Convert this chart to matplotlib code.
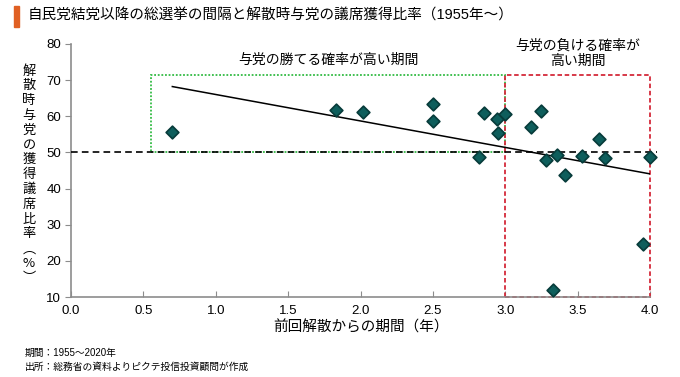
import matplotlib
matplotlib.use("Agg")
import matplotlib.pyplot as plt
import numpy as np
from matplotlib.patches import Rectangle

plt.rcParams["font.family"] = ["Liberation Sans", "Noto Sans CJK JP", "DejaVu Sans"]

# years since the previous dissolution / ruling party seat share (%)
interval_years = [0.70, 1.83, 2.02, 2.50, 2.50, 2.82, 2.85, 2.94, 2.95, 3.00,
                  3.18, 3.25, 3.28, 3.36, 3.41, 3.53, 3.65, 3.69, 4.00, 3.95, 3.33]
seat_share = [55.6, 61.6, 61.2, 63.4, 58.6, 48.6, 61.0, 59.3, 55.3, 60.6,
              57.0, 61.5, 47.9, 49.4, 43.7, 48.9, 53.7, 48.5, 48.6, 24.8, 11.8]

x_ticks = [0.0, 0.5, 1.0, 1.5, 2.0, 2.5, 3.0, 3.5, 4.0]
y_ticks = [10, 20, 30, 40, 50, 60, 70, 80]
majority_line = 50
win_period = (0.55, 3.0)
lose_period = (3.0, 4.0)
box_top = 71.5

fig = plt.figure(figsize=(6.8, 3.77), dpi=100)
ax = fig.add_axes([0.1044, 0.2122, 0.8515, 0.6711])

ax.set_xlim(0, 4)
ax.set_ylim(10, 80)
ax.set_xticks(x_ticks)
ax.set_xticklabels([f"{v:.1f}" for v in x_ticks])
ax.set_yticks(y_ticks)
for side in ("top", "right"):
    ax.spines[side].set_visible(False)
for side in ("left", "bottom"):
    ax.spines[side].set_color("#8c8c8c")
    ax.spines[side].set_linewidth(1.2)
ax.tick_params(axis="y", direction="out", length=4, color="#8c8c8c", labelsize=9.5, pad=3)
ax.tick_params(axis="x", direction="in", length=4, color="#8c8c8c", labelsize=9.5, pad=6)

# period boxes
ax.add_patch(Rectangle((win_period[0], majority_line), win_period[1] - win_period[0],
                       box_top - majority_line, fill=False, edgecolor="#33bb44",
                       linestyle=(0, (1, 1)), linewidth=1.3, zorder=2))
ax.add_patch(Rectangle((lose_period[0], 10), lose_period[1] - lose_period[0],
                       box_top - 10, fill=False, edgecolor="#d42a3a",
                       linestyle=(0, (2.5, 1.5)), linewidth=1.3, zorder=2, clip_on=False))

ax.plot([0, 4.05], [majority_line, majority_line], color="black", linestyle=(0, (4, 2.5)),
        linewidth=1.2, clip_on=False, zorder=3)

# linear trend
x = np.array(interval_years)
y = np.array(seat_share)
slope, intercept = np.polyfit(x, y, 1)
xs = np.array([x.min(), x.max()])
ax.plot(xs, slope * xs + intercept, color="black", linewidth=1.1, zorder=3)

ax.scatter(x, y, marker="D", s=42, color="#0e5e5c", edgecolor="#073b3a",
           linewidth=1.2, zorder=4, clip_on=False)

ax.text(1.78, 75.5, "与党の勝てる確率が高い期間", ha="center", va="center", fontsize=10)
ax.text(3.5, 77.5, "与党の負ける確率が\n高い期間", ha="center", va="center",
        fontsize=10, linespacing=1.15)

ax.set_xlabel("前回解散からの期間（年）", fontsize=10.5, labelpad=2)

# vertical y label, one character per line
ylabel = "解散時与党の獲得議席比率︵%︶"
for i, ch in enumerate(ylabel):
    fig.text(29 / 680, 1 - (71 + i * 14.8) / 377, ch, ha="center", va="center",
             fontsize=9.5, family=["Noto Sans CJK JP", "DejaVu Sans"])

# title with orange bar
fig.patches.append(Rectangle((14 / 680, 1 - 27 / 377), 5 / 680, 21 / 377,
                             transform=fig.transFigure, color="#e06023"))
fig.text(28 / 680, 1 - 16 / 377,
         "自民党結党以降の総選挙の間隔と解散時与党の議席獲得比率（1955年～）",
         ha="left", va="center", fontsize=10.5)

fig.text(25 / 680, 1 - 353 / 377, "期間：1955～2020年", fontsize=7, va="center")
fig.text(25 / 680, 1 - 367 / 377, "出所：総務省の資料よりピクテ投信投資顧問が作成",
         fontsize=7, va="center")

fig.savefig("out.png", dpi=100)
